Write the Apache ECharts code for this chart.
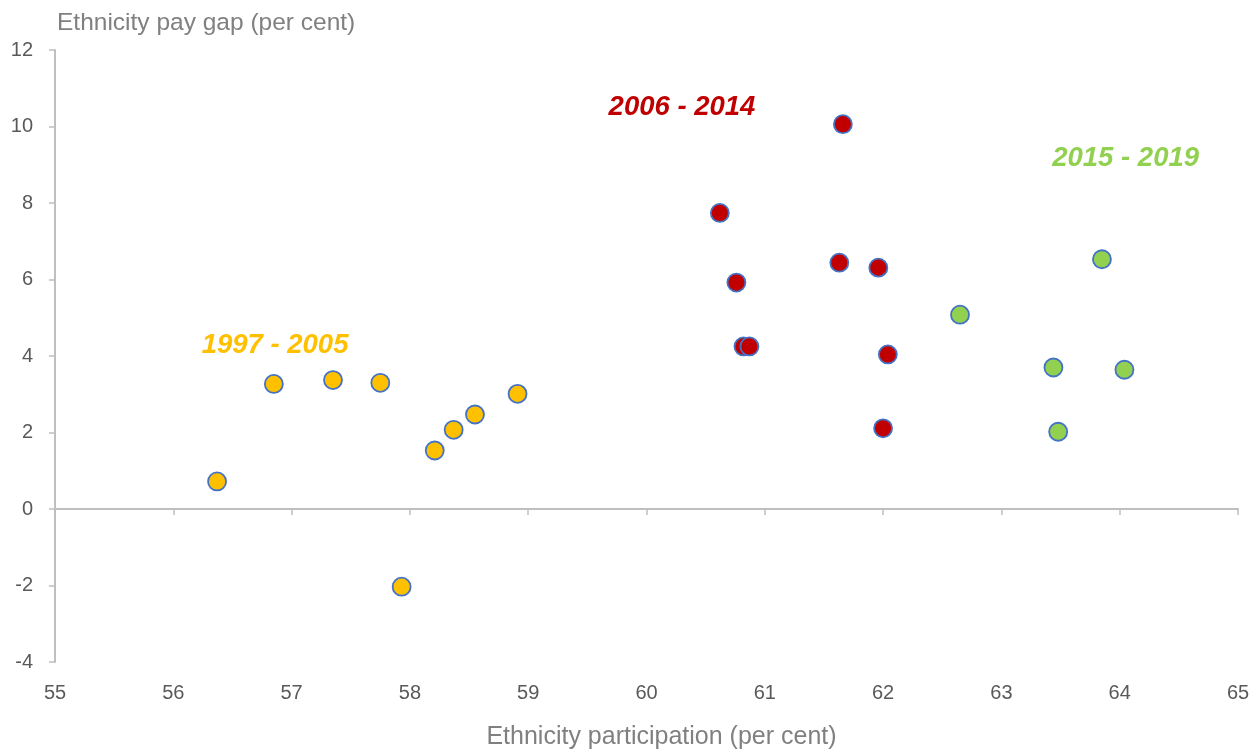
<!DOCTYPE html>
<html>
<head>
<meta charset="utf-8">
<script src="https://cdn.jsdelivr.net/npm/echarts@6/dist/echarts.min.js"></script>
<style>
html,body{margin:0;padding:0;background:#fff;}
#chart{width:1256px;height:752px;}
</style>
</head>
<body>
<div id="chart"></div>
<script>
// Data (participation %, pay gap %)
const period1X = [56.37, 56.85, 57.35, 57.75, 57.93, 58.21, 58.37, 58.55, 58.91];
const period1Y = [0.72, 3.27, 3.37, 3.30, -2.03, 1.53, 2.07, 2.47, 3.01];
const period2X = [61.66, 60.62, 61.63, 61.96, 60.76, 60.82, 60.87, 62.04, 62.00];
const period2Y = [10.06, 7.74, 6.44, 6.31, 5.92, 4.25, 4.25, 4.04, 2.11];
const period3X = [63.85, 62.65, 63.44, 64.04, 63.48];
const period3Y = [6.53, 5.08, 3.70, 3.64, 2.02];

const periodNames = ['1997 - 2005', '2006 - 2014', '2015 - 2019'];
const periodLabelX = [56.86, 60.30, 64.05];
const periodLabelY = [4.27, 10.50, 9.16];

const xTicks = [55, 56, 57, 58, 59, 60, 61, 62, 63, 64, 65];
const yTicks = [-4, -2, 0, 2, 4, 6, 8, 10, 12];

const xTitle = 'Ethnicity participation (per cent)';
const yTitle = 'Ethnicity pay gap (per cent)';

const colors = ['#FFC000', '#C00000', '#92D050'];
const FONT = '"Liberation Sans", Arial, sans-serif';

const zip = (xs, ys) => xs.map((x, i) => [x, ys[i]]);
const seriesData = [zip(period1X, period1Y), zip(period2X, period2Y), zip(period3X, period3Y)];

const chart = echarts.init(document.getElementById('chart'));
const axisColor = '#bfbfbf';

const series = seriesData.map((d, i) => ({
  type: 'scatter',
  xAxisIndex: 0,
  yAxisIndex: 0,
  data: d,
  symbol: 'circle',
  symbolSize: 18,
  itemStyle: { color: colors[i], borderColor: '#4472C4', borderWidth: 1.8, opacity: 1 },
  emphasis: { disabled: true },
  z: 3
}));

series.push({
  type: 'scatter',
  xAxisIndex: 0,
  yAxisIndex: 0,
  silent: true,
  symbolSize: 0,
  itemStyle: { color: 'rgba(0,0,0,0)' },
  data: periodNames.map((n, i) => ({
    value: [periodLabelX[i], periodLabelY[i]],
    label: {
      show: true,
      position: [0, 0],
      align: 'center',
      verticalAlign: 'middle',
      formatter: n,
      color: colors[i],
      opacity: 1,
      textBorderWidth: 0,
      fontFamily: FONT,
      fontSize: 27.5,
      fontWeight: 'bold',
      fontStyle: 'italic'
    }
  })),
  z: 4
});

chart.setOption({
  animation: false,
  backgroundColor: '#ffffff',
  grid: { left: 55, right: 18, top: 50, bottom: 90, containLabel: false, outerBoundsMode: 'none' },
  xAxis: [
    {
      type: 'value',
      position: 'bottom',
      min: xTicks[0],
      max: xTicks[xTicks.length - 1],
      interval: 1,
      axisLine: { show: false, onZero: false },
      axisTick: { show: false },
      splitLine: { show: false },
      axisLabel: { color: '#595959', fontFamily: FONT, fontSize: 20, margin: 21 },
      name: xTitle,
      nameLocation: 'middle',
      nameGap: 63,
      nameTextStyle: { color: '#808080', fontFamily: FONT, fontSize: 25, padding: [0, 0, 0, 30] }
    },
    {
      type: 'value',
      position: 'top',
      min: xTicks[0],
      max: xTicks[xTicks.length - 1],
      interval: 1,
      axisLine: { show: true, onZero: true, lineStyle: { color: axisColor, width: 2 } },
      axisTick: { show: true, inside: true, length: 6, lineStyle: { color: axisColor, width: 1.5 } },
      axisLabel: { show: false },
      splitLine: { show: false }
    }
  ],
  yAxis: {
    type: 'value',
    min: yTicks[0],
    max: yTicks[yTicks.length - 1],
    interval: 2,
    axisLine: { show: true, onZero: false, lineStyle: { color: axisColor, width: 2 } },
    axisTick: { show: true, length: 6, lineStyle: { color: axisColor, width: 1.5 } },
    splitLine: { show: false },
    axisLabel: { color: '#595959', fontFamily: FONT, fontSize: 20, margin: 22 },
    name: yTitle,
    nameLocation: 'end',
    nameGap: 14,
    nameTextStyle: { color: '#808080', fontFamily: FONT, fontSize: 24.5, align: 'left', padding: [0, 0, 0, 2] }
  },
  series: series
});
</script>
</body>
</html>
